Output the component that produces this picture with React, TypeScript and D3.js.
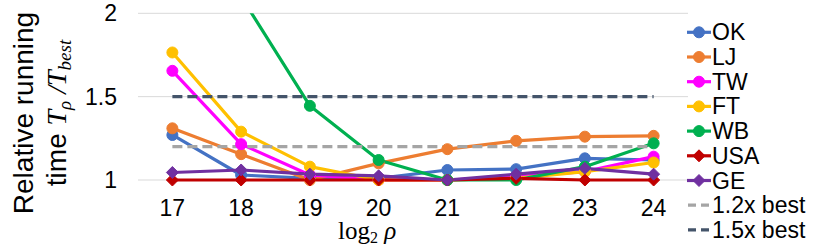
import React from "react";
import * as d3 from "d3";

const categories = ["17", "18", "19", "20", "21", "22", "23", "24"];
const seriesNames = ["OK", "LJ", "TW", "FT", "WB", "USA", "GE"];
const okValues = [1.27, 1.03, 1.01, 1.01, 1.06, 1.065, 1.13, 1.12];
const ljValues = [1.31, 1.155, 1.0, 1.1, 1.185, 1.235, 1.26, 1.265];
const twValues = [1.655, 1.215, 1.03, 1.0, 1.0, 1.02, 1.05, 1.14];
const ftValues = [1.765, 1.29, 1.08, 1.0, 1.0, 1.01, 1.05, 1.105];
const wbValues = [2.6, 2.1, 1.445, 1.12, 1.0, 1.0, 1.08, 1.22];
const usaValues = [1.0, 1.0, 1.0, 1.0, 1.0, 1.01, 1.0, 1.0];
const geValues = [1.045, 1.06, 1.035, 1.025, 1.0, 1.035, 1.07, 1.035];
const refNames = ["1.2x best", "1.5x best"];
const refValues = [1.2, 1.5];
const yTicks = [1, 1.5, 2];

const colors = ["#4472C4", "#ED7D31", "#FF00FF", "#FFC000", "#00B050", "#C00000", "#7030A0"];
const shapes = ["circle", "circle", "circle", "circle", "circle", "diamond", "diamond"];
const refColors = ["#A5A5A5", "#44546A"];

const allValues = [okValues, ljValues, twValues, ftValues, wbValues, usaValues, geValues];

const W = 830;
const H = 249;
const plotLeft = 138;
const plotRight = 688;
const plotTop = 13.3;
const plotBottom = 180;

function Marker({ shape, x, y, color }: { shape: string; x: number; y: number; color: string }) {
  if (shape === "diamond") {
    const s = 6;
    return (
      <path
        d={`M${x},${y - s}L${x + s},${y}L${x},${y + s}L${x - s},${y}Z`}
        fill={color}
        stroke={color}
        strokeWidth={1}
      />
    );
  }
  return <circle cx={x} cy={y} r={5.5} fill={color} stroke={color} strokeWidth={1} />;
}

export default function App() {
  const x = d3.scaleBand<string>().domain(categories).range([plotLeft, plotRight]);
  const cx = (c: string) => (x(c) as number) + x.bandwidth() / 2;
  const y = d3.scaleLinear().domain([1, 2]).range([plotBottom, plotTop]);
  const line = d3
    .line<number>()
    .x((_, i) => cx(categories[i]))
    .y((d) => y(d));

  const font = "Liberation Sans, Arial, sans-serif";
  const serif = "Liberation Serif, Times New Roman, serif";
  const legendY0 = 32.3;
  const legendStep = 24.7;

  return (
    <svg
      width={W}
      height={H}
      style={{ position: "absolute", left: 0, top: 0, background: "#fff" }}
      fontFamily={font}
    >
      <defs>
        <clipPath id="plotclip">
          <rect x={plotLeft - 10} y={plotTop} width={plotRight - plotLeft + 20} height={H - plotTop} />
        </clipPath>
      </defs>
      <rect x={0} y={0} width={W} height={H} fill="#fff" />
      {yTicks.map((t) => (
        <g key={t}>
          <line x1={plotLeft} x2={plotRight} y1={y(t)} y2={y(t)} stroke="#D9D9D9" strokeWidth={1} />
          <text x={117} y={y(t)} textAnchor="end" dominantBaseline="central" fontSize={23} fill="#000">
            {t}
          </text>
        </g>
      ))}
      {categories.map((c) => (
        <text key={c} x={cx(c)} y={216} textAnchor="middle" fontSize={23} fill="#000">
          {c}
        </text>
      ))}
      <text x={338} y={239} fontFamily={serif} fontSize={25} fill="#000">
        log
        <tspan fontSize={16} dy={4}>2</tspan>
        <tspan dy={-4} fontStyle="italic"> ρ</tspan>
      </text>
      <text transform="translate(33,113) rotate(-90)" textAnchor="middle" fontSize={28} fill="#000">
        Relative running
      </text>
      <text transform="translate(66,113) rotate(-90)" textAnchor="middle" fontSize={28} fill="#000">
        time{" "}
        <tspan fontFamily={serif} fontStyle="italic">T</tspan>
        <tspan fontFamily={serif} fontStyle="italic" fontSize={19} dy={5}>ρ</tspan>
        <tspan fontFamily={serif} fontStyle="italic" dy={-5}> /T</tspan>
        <tspan fontFamily={serif} fontStyle="italic" fontSize={19} dy={5}>best</tspan>
      </text>
      <g clipPath="url(#plotclip)">
        {allValues.map((vals, i) => (
          <path key={"l" + i} d={line(vals) || ""} fill="none" stroke={colors[i]} strokeWidth={3.2} strokeLinejoin="round" />
        ))}
        {refValues.map((v, i) => (
          <line
            key={"r" + i}
            x1={cx(categories[0])}
            x2={cx(categories[categories.length - 1])}
            y1={y(v)}
            y2={y(v)}
            stroke={refColors[i]}
            strokeWidth={3.2}
            strokeDasharray="10,5"
          />
        ))}
        {allValues.map((vals, i) =>
          vals.map((v, j) => (
            <Marker key={"m" + i + "-" + j} shape={shapes[i]} x={cx(categories[j])} y={y(v)} color={colors[i]} />
          ))
        )}
      </g>
      {seriesNames.map((n, i) => {
        const ly = legendY0 + i * legendStep;
        return (
          <g key={n}>
            <line x1={687} x2={711} y1={ly} y2={ly} stroke={colors[i]} strokeWidth={3.2} />
            <Marker shape={shapes[i]} x={699} y={ly} color={colors[i]} />
            <text x={712} y={ly} dominantBaseline="central" fontSize={23} fill="#000">
              {n}
            </text>
          </g>
        );
      })}
      {refNames.map((n, i) => {
        const ly = legendY0 + (seriesNames.length + i) * legendStep;
        return (
          <g key={n}>
            <line x1={688} x2={711} y1={ly} y2={ly} stroke={refColors[i]} strokeWidth={3.2} strokeDasharray="8,5" />
            <text x={712} y={ly} dominantBaseline="central" fontSize={23} fill="#000">
              {n}
            </text>
          </g>
        );
      })}
    </svg>
  );
}
